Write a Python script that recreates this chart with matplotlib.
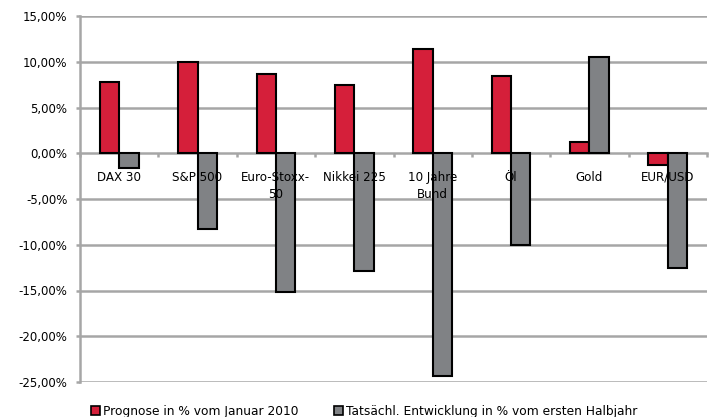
import numpy as np
import matplotlib
matplotlib.use('Agg')
import matplotlib.pyplot as plt
from matplotlib.patches import Patch

kategorien = ['DAX 30', 'S&P 500', 'Euro-Stoxx-\n50', 'Nikkei 225',
              '10 Jahre\nBund', 'Öl', 'Gold', 'EUR/USD']
prognose = [7.80, 9.92, 8.64, 7.41, 11.35, 8.39, 1.20, -1.31]
entwicklung = [-1.64, -8.24, -15.18, -12.90, -24.30, -10.07, 10.47, -12.55]
y_ticks = [15, 10, 5, 0, -5, -10, -15, -20, -25]
legende = ['Prognose in % vom Januar 2010',
           'Tatsächl. Entwicklung in % vom ersten Halbjahr']

rot = '#d51f3a'
grau = '#808285'
linie = '#a6a6a6'

fig = plt.figure(figsize=(7.11, 4.17), dpi=100)
ax = fig.add_axes([80/711., 1 - 382/417., 627/711., 366/417.])

x = np.arange(len(kategorien))
w = 0.247
ax.bar(x - w/2, prognose, w, color=rot, edgecolor='black', linewidth=1.5, zorder=3)
ax.bar(x + w/2, entwicklung, w, color=grau, edgecolor='black', linewidth=1.5, zorder=3)

ax.set_xlim(-0.5, len(kategorien) - 0.5)
ax.set_ylim(-25, 15)
ax.set_yticks(y_ticks)
ax.yaxis.set_major_formatter(matplotlib.ticker.FuncFormatter(
    lambda v, p: ('%.2f%%' % v).replace('.', ',')))
for t in y_ticks:
    if t != 0:
        ax.axhline(t, color=linie, linewidth=1.8, zorder=1)

ax.spines['top'].set_visible(False)
ax.spines['right'].set_visible(False)
ax.spines['left'].set_color(linie)
ax.spines['left'].set_linewidth(1.8)
ax.spines['bottom'].set_position(('data', 0))
ax.spines['bottom'].set_color(linie)
ax.spines['bottom'].set_linewidth(1.8)
ax.spines['bottom'].set_zorder(2)

ax.set_xticks(np.arange(len(kategorien) + 1) - 0.5)
ax.set_xticklabels([])
ax.tick_params(axis='x', direction='out', length=3, width=1.8, color=linie)
ax.tick_params(axis='y', direction='out', length=3, width=1.8, color=linie,
               labelsize=8.5, pad=6)

for i, k in enumerate(kategorien):
    ax.annotate(k, (i, 0), xytext=(0, -12.5), textcoords='offset points',
                ha='center', va='top', fontsize=8.6, linespacing=1.4, zorder=4)

handles = [Patch(facecolor=rot, edgecolor='black', linewidth=1.2),
           Patch(facecolor=grau, edgecolor='black', linewidth=1.2)]
fig.legend(handles, legende, loc='center left', bbox_to_anchor=(91/711., 1 - 411/417.),
           ncol=2, frameon=False, fontsize=8.8, handlelength=0.7, handleheight=0.7,
           handletextpad=0.3, columnspacing=2.9, borderpad=0, borderaxespad=0)

plt.savefig('out.png', dpi=100)
